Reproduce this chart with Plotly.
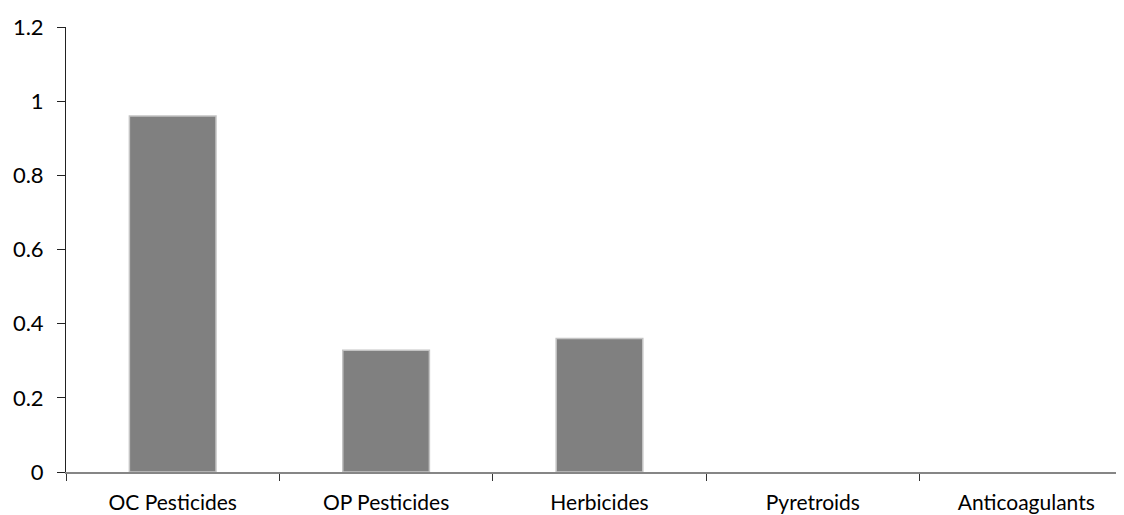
import plotly.graph_objects as go

categories = ["OC Pesticides", "OP Pesticides", "Herbicides", "Pyretroids", "Anticoagulants"]
values = [0.96, 0.328, 0.36, 0, 0]
y_ticks = [0, 0.2, 0.4, 0.6, 0.8, 1, 1.2]
y_tick_labels = ["0", "0.2", "0.4", "0.6", "0.8", "1", "1.2"]

FONT = "Lato"

fig = go.Figure(
    go.Bar(
        x=categories,
        y=values,
        marker=dict(
            color="#808080",
            line=dict(color="#c4c4c4", width=[1.5 if v > 0 else 0 for v in values]),
        ),
    )
)

# page body has an 8px margin, so the figure is sized to end at the window edge
fig.update_layout(
    width=1116,
    height=507,
    margin=dict(l=58, r=0, t=19, b=43),
    paper_bgcolor="white",
    plot_bgcolor="white",
    bargap=0.594,
    showlegend=False,
    font=dict(family=FONT, size=22, color="#000000"),
)

fig.update_xaxes(
    type="category",
    range=[-0.5, 4.458],
    automargin=False,
    showgrid=False,
    showline=True,
    linecolor="#868686",
    linewidth=1.5,
    ticks="outside",
    tickson="boundaries",
    ticklen=7,
    tickcolor="#333333",
    tickwidth=1,
    tickfont=dict(family=FONT, size=21, color="#000000"),
    ticklabelstandoff=11,
    zeroline=False,
)

fig.update_yaxes(
    range=[0, 1.2],
    automargin=False,
    tickvals=y_ticks,
    ticktext=y_tick_labels,
    showgrid=False,
    showline=True,
    linecolor="#222222",
    linewidth=1,
    ticks="outside",
    ticklen=8,
    tickcolor="#222222",
    tickfont=dict(family=FONT, size=22, color="#000000"),
    ticklabelstandoff=9,
    zeroline=False,
)

fig.write_html("out.html")
